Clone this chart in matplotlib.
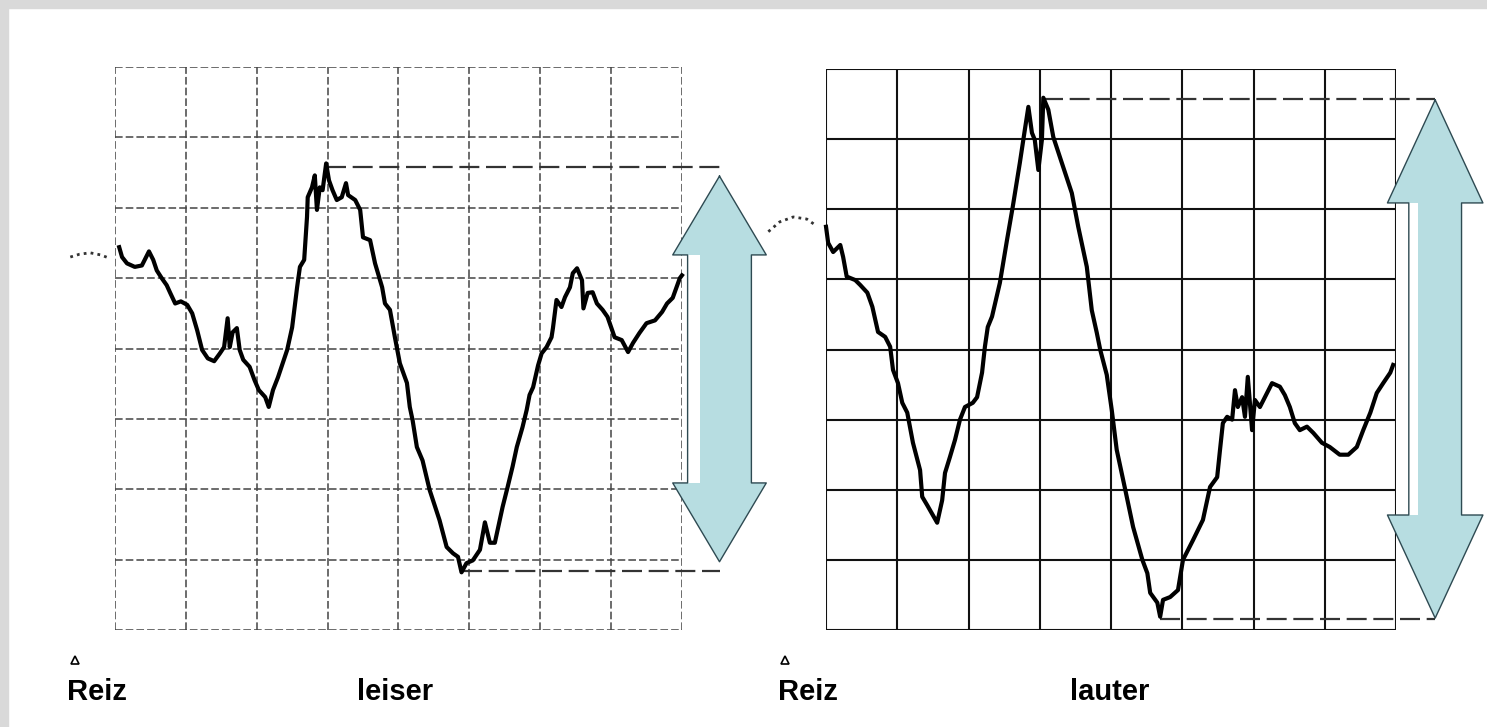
import numpy as np
import matplotlib.pyplot as plt
from matplotlib.patches import Rectangle

plt.rcParams['font.family'] = ['Liberation Sans Narrow', 'Liberation Sans', 'DejaVu Sans']

# Zeit und Amplitude in Rasterteilen (8 x 8 Kaestchen je Feld)
leise_t = [0.06, 0.10, 0.17, 0.28, 0.38, 0.44, 0.48, 0.54, 0.59, 0.66,
           0.73, 0.78, 0.85, 0.93, 1.02, 1.09, 1.16, 1.23, 1.31, 1.40,
           1.48, 1.54, 1.59, 1.62, 1.66, 1.72, 1.76, 1.81, 1.90, 1.97,
           2.03, 2.12, 2.17, 2.23, 2.30, 2.43, 2.50, 2.57, 2.61, 2.67,
           2.71, 2.72, 2.78, 2.82, 2.85, 2.89, 2.93, 2.98, 3.02, 3.07,
           3.13, 3.20, 3.26, 3.29, 3.39, 3.46, 3.50, 3.60, 3.67, 3.77,
           3.81, 3.88, 3.95, 4.02, 4.12, 4.16, 4.20, 4.26, 4.34, 4.44,
           4.58, 4.68, 4.77, 4.84, 4.89, 4.96, 5.05, 5.15, 5.22, 5.29,
           5.36, 5.47, 5.54, 5.61, 5.67, 5.75, 5.81, 5.85, 5.90, 5.97,
           6.02, 6.09, 6.16, 6.18, 6.23, 6.30, 6.35, 6.42, 6.46, 6.52,
           6.59, 6.61, 6.67, 6.74, 6.80, 6.88, 6.95, 7.05, 7.15, 7.24,
           7.31, 7.40, 7.50, 7.62, 7.72, 7.79, 7.87, 7.97, 8.00]
leise_a = [5.44, 5.30, 5.21, 5.16, 5.18, 5.30, 5.38, 5.26, 5.11, 5.00,
           4.90, 4.79, 4.64, 4.67, 4.62, 4.50, 4.26, 3.98, 3.86, 3.82,
           3.93, 4.02, 4.43, 4.02, 4.23, 4.29, 3.98, 3.84, 3.74, 3.55,
           3.41, 3.31, 3.17, 3.41, 3.59, 3.98, 4.30, 4.87, 5.16, 5.26,
           5.87, 6.15, 6.29, 6.46, 5.97, 6.29, 6.25, 6.63, 6.39, 6.25,
           6.11, 6.15, 6.35, 6.18, 6.11, 5.97, 5.58, 5.54, 5.21, 4.87,
           4.64, 4.55, 4.16, 3.79, 3.51, 3.17, 2.98, 2.60, 2.41, 1.99,
           1.56, 1.18, 1.09, 1.04, 0.82, 0.95, 0.99, 1.14, 1.53, 1.24,
           1.24, 1.75, 2.03, 2.32, 2.60, 2.88, 3.13, 3.34, 3.45, 3.76,
           3.93, 4.02, 4.16, 4.29, 4.69, 4.59, 4.73, 4.87, 5.07, 5.14,
           4.97, 4.57, 4.79, 4.80, 4.64, 4.55, 4.45, 4.16, 4.12, 3.95,
           4.08, 4.22, 4.36, 4.40, 4.52, 4.64, 4.72, 5.00, 5.04]

laut_t = [0.00, 0.03, 0.10, 0.20, 0.24, 0.29, 0.41, 0.48, 0.58, 0.65,
          0.73, 0.83, 0.90, 0.94, 1.01, 1.07, 1.14, 1.22, 1.32, 1.35,
          1.42, 1.56, 1.63, 1.67, 1.74, 1.81, 1.88, 1.95, 2.06, 2.12,
          2.19, 2.23, 2.27, 2.33, 2.44, 2.54, 2.62, 2.72, 2.79, 2.84,
          2.89, 2.93, 2.98, 3.03, 3.05, 3.12, 3.19, 3.31, 3.45, 3.54,
          3.66, 3.73, 3.80, 3.85, 3.94, 4.01, 4.08, 4.20, 4.31, 4.44,
          4.51, 4.55, 4.65, 4.69, 4.73, 4.83, 4.94, 5.01, 5.15, 5.29,
          5.39, 5.49, 5.53, 5.57, 5.63, 5.70, 5.74, 5.78, 5.84, 5.88,
          5.92, 5.98, 6.02, 6.09, 6.16, 6.26, 6.37, 6.44, 6.51, 6.58,
          6.65, 6.75, 6.84, 6.96, 7.07, 7.21, 7.33, 7.45, 7.54, 7.64,
          7.73, 7.82, 7.92, 7.96]
laut_a = [5.75, 5.52, 5.39, 5.49, 5.32, 5.04, 4.99, 4.92, 4.81, 4.61,
          4.25, 4.18, 4.04, 3.71, 3.52, 3.24, 3.10, 2.67, 2.28, 1.90,
          1.78, 1.53, 1.85, 2.24, 2.47, 2.71, 3.00, 3.18, 3.24, 3.32,
          3.67, 4.04, 4.32, 4.47, 4.95, 5.56, 6.03, 6.66, 7.13, 7.46,
          7.09, 6.99, 6.56, 6.99, 7.59, 7.42, 7.03, 6.66, 6.23, 5.75,
          5.18, 4.56, 4.24, 3.99, 3.64, 3.14, 2.57, 2.00, 1.47, 1.00,
          0.81, 0.53, 0.39, 0.19, 0.43, 0.47, 0.57, 1.00, 1.28, 1.57,
          2.04, 2.18, 2.57, 2.95, 3.04, 3.00, 3.42, 3.18, 3.32, 3.04,
          3.61, 2.85, 3.28, 3.18, 3.32, 3.52, 3.47, 3.35, 3.18, 2.95,
          2.85, 2.90, 2.81, 2.67, 2.61, 2.50, 2.50, 2.61, 2.85, 3.10,
          3.38, 3.52, 3.67, 3.78]

# gepunkteter Verlauf vor dem Reiz
leise_vor_t = [-0.63, -0.50, -0.35, -0.20, -0.07]
leise_vor_a = [5.30, 5.34, 5.36, 5.33, 5.28]
laut_vor_t = [-0.81, -0.65, -0.46, -0.27, -0.13]
laut_vor_a = [5.68, 5.82, 5.89, 5.86, 5.76]

# Gipfel und Tal (gestrichelte Marken)
leise_gipfel, leise_tal = 6.58, 0.84
laut_gipfel, laut_tal = 7.57, 0.16

titel = ['leiser', 'lauter']
reiz = 'Reiz'


def doppelpfeil(ax, xc, oben, unten, kopf, kopf_b, schaft_b, streifen):
    px = [xc, xc + kopf_b, xc + schaft_b, xc + schaft_b, xc + kopf_b,
          xc, xc - kopf_b, xc - schaft_b, xc - schaft_b, xc - kopf_b, xc]
    py = [oben, oben - kopf, oben - kopf, unten + kopf, unten + kopf,
          unten, unten + kopf, unten + kopf, oben - kopf, oben - kopf, oben]
    ax.fill(px, py, facecolor='#b7dde1', edgecolor='none', clip_on=False, zorder=5)
    # heller Streifen links im Schaft
    ax.fill([xc - schaft_b, xc - schaft_b + streifen, xc - schaft_b + streifen, xc - schaft_b],
            [oben - kopf, oben - kopf, unten + kopf, unten + kopf],
            facecolor='white', edgecolor='none', clip_on=False, zorder=6)
    ax.plot(px, py, color='#2e4a52', lw=1.0, clip_on=False, zorder=7)


def feld(ax, t, a, vor_t, vor_a, gipfel, tal, name, grid_kw, pfeil):
    ax.set_xlim(0, 8)
    ax.set_ylim(0, 8)
    ax.axis('off')
    for i in range(9):
        ax.axvline(i, **grid_kw)
        ax.axhline(i, **grid_kw)

    ax.plot(vor_t, vor_a, color='#333333', lw=2, ls=(0, (1, 1.5)), clip_on=False)
    ax.plot(t, a, color='black', lw=3, solid_joinstyle='round', clip_on=False, zorder=4)

    xc = pfeil[0]
    t_max = t[int(np.argmax(a))]
    t_min = t[int(np.argmin(a))]
    ax.plot([t_max, xc], [gipfel, gipfel], color='#333333', lw=1.6,
            ls=(0, (9, 3)), clip_on=False, zorder=3)
    ax.plot([t_min, xc], [tal, tal], color='#333333', lw=1.6,
            ls=(0, (9, 3)), clip_on=False, zorder=3)
    doppelpfeil(ax, xc, gipfel - pfeil[1], tal + pfeil[1], *pfeil[2:])

    ax.plot(-0.57, -0.43, marker='^', ms=6, mfc='white', mec='black', mew=1.2,
            clip_on=False)
    ax.text(-0.68, -0.88, reiz, fontsize=21, fontweight='bold', va='center', ha='left')
    ax.text(3.42, -0.88, name, fontsize=21, fontweight='bold', va='center', ha='left')


fig = plt.figure(figsize=(14.87, 7.27), dpi=100)
fig.patches.append(Rectangle((0, 0.989), 1, 0.011, transform=fig.transFigure,
                             color='#d9d9d9', zorder=0))
fig.patches.append(Rectangle((0, 0), 0.0054, 1, transform=fig.transFigure,
                             color='#d9d9d9', zorder=0))

ax1 = fig.add_axes([0.0773, 0.1334, 0.3813, 0.7744])
ax2 = fig.add_axes([0.5555, 0.1334, 0.3833, 0.7717])

feld(ax1, leise_t, leise_a, leise_vor_t, leise_vor_a, leise_gipfel, leise_tal, titel[0],
     dict(color='#444444', lw=1.1, ls=(0, (5, 2))),
     (8.53, 0.13, 1.12, 0.66, 0.45, 0.17))
feld(ax2, laut_t, laut_a, laut_vor_t, laut_vor_a, laut_gipfel, laut_tal, titel[1],
     dict(color='#111111', lw=1.5),
     (8.55, 0.01, 1.47, 0.67, 0.37, 0.13))

fig.savefig('out.png', dpi=100)
